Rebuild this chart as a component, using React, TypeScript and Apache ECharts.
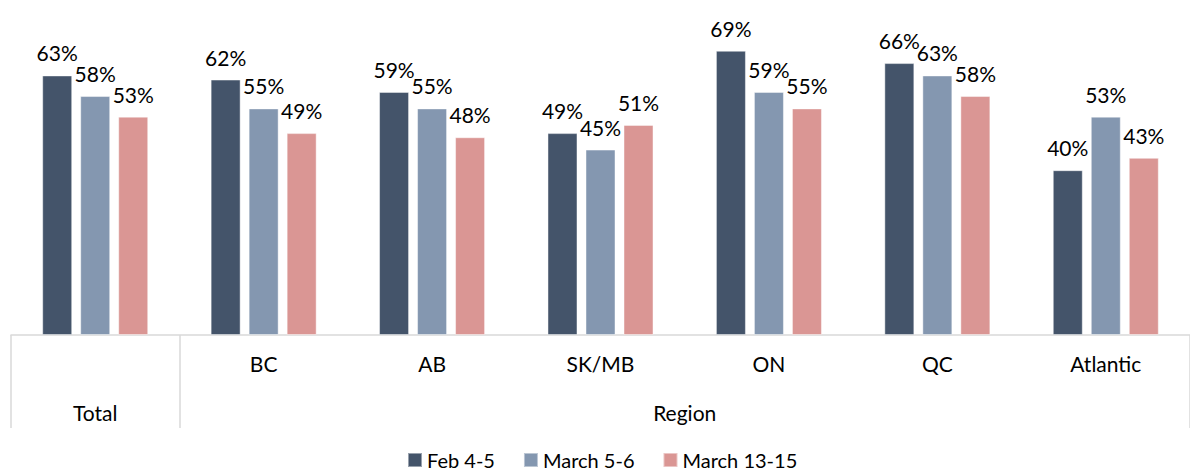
import React, { useEffect, useRef } from "react";
import * as echarts from "echarts";

const categories = ["Total", "BC", "AB", "SK/MB", "ON", "QC", "Atlantic"];
const feb45 = [63, 62, 59, 49, 69, 66, 40];
const march56 = [58, 55, 55, 45, 59, 63, 53];
const march1315 = [53, 49, 48, 51, 55, 58, 43];
const seriesNames = ["Feb 4-5", "March 5-6", "March 13-15"];
const colors = ["#44546A", "#8497B0", "#DA9694"];
const groupLabels = ["Total", "Region"];

const FONT = "Lato, 'Noto Sans', sans-serif";

export default function App() {
  const ref = useRef<HTMLDivElement>(null);
  useEffect(() => {
    document.body.style.margin = "0";
    if (!ref.current) return;
    const chart = echarts.init(ref.current, null, { renderer: "svg" });
    const values = [feb45, march56, march1315];
    const option: any = {
      animation: false,
      textStyle: { fontFamily: FONT },
      grid: { left: 11, right: -11, top: 5.4, bottom: 136, containLabel: false },
      legend: {
        left: 407,
        top: 450,
        padding: 0,
        itemWidth: 14,
        itemHeight: 14,
        itemGap: 28,
        icon: "rect",
        textStyle: { fontFamily: FONT, fontSize: 20, lineHeight: 20, color: "#000" },
        data: seriesNames,
      },
      xAxis: {
        type: "category",
        data: categories,
        axisLine: { lineStyle: { color: "#d9d9d9", width: 1.5 } },
        axisTick: {
          show: true,
          interval: (index: number) => index <= 1,
          length: 93,
          lineStyle: { color: "#d9d9d9", width: 1.5 },
        },
        axisLabel: {
          fontFamily: FONT,
          fontSize: 21,
          color: "#000",
          margin: 18,
          interval: 0,
          formatter: (v: string) => (v === "Total" ? "" : v),
        },
      },
      yAxis: { type: "value", min: 0, max: 80, show: false },
      series: seriesNames.map((name, i) => ({
        name,
        type: "bar",
        data: values[i],
        barWidth: 30,
        barGap: "26.7%",
        itemStyle: { color: colors[i], borderColor: "rgba(255,255,255,0.45)", borderWidth: 1 },
        label: {
          show: true,
          position: "top",
          distance: 12,
          formatter: "{c}%",
          fontFamily: FONT,
          fontSize: 21,
          color: "#000",
        },
      })),
    };
    chart.setOption(option);
    const xTotal = chart.convertToPixel({ xAxisIndex: 0 }, "Total") as number;
    const xFirst = chart.convertToPixel({ xAxisIndex: 0 }, categories[1]) as number;
    const xLast = chart.convertToPixel({ xAxisIndex: 0 }, categories[categories.length - 1]) as number;
    const yBase = chart.convertToPixel({ yAxisIndex: 0 }, 0) as number;
    const textStyle = {
      fontFamily: FONT,
      fontSize: 21,
      fill: "#000",
      align: "center",
      verticalAlign: "middle",
    };
    chart.setOption({
      graphic: [
        { type: "text", x: xTotal, y: yBase + 77, style: { ...textStyle, text: groupLabels[0] } },
        { type: "text", x: (xFirst + xLast) / 2, y: yBase + 77, style: { ...textStyle, text: groupLabels[1] } },
      ],
    });
    return () => chart.dispose();
  }, []);
  return <div ref={ref} style={{ width: 1190, height: 471 }} />;
}
